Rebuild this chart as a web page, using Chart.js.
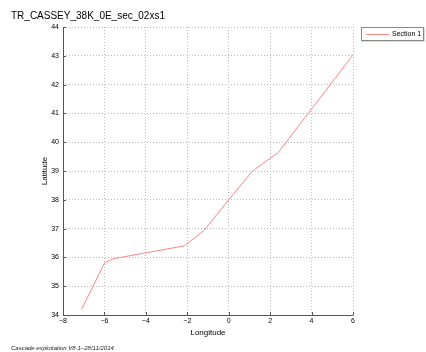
<!DOCTYPE html>
<html><head><meta charset="utf-8">
<script src="https://cdn.jsdelivr.net/npm/chart.js@4/dist/chart.umd.min.js"></script>
<style>html,body{margin:0;padding:0;background:#fff}canvas{display:block}</style>
</head><body>
<canvas id="c" width="426" height="352"></canvas>
<script>
const chartTitle = "TR_CASSEY_38K_0E_sec_02xs1";
const seriesName = "Section 1";
const longitude = [-7.1, -6.0, -5.6, -2.15, -1.2, 0.0, 1.15, 2.4, 6.0];
const latitude  = [34.2, 35.8, 35.95, 36.4, 36.93, 38.0, 39.0, 39.65, 43.03];
const xTicks = [-8, -6, -4, -2, 0, 2, 4, 6];
const yTicks = [34, 35, 36, 37, 38, 39, 40, 41, 42, 43, 44];
const xLabel = "Longitude", yLabel = "Latitude";
const footer = "Cascade exploitation V8.1\u221228/11/2014";

const FONT = "'Liberation Sans', Arial, sans-serif";
const minus = v => String(v).replace('-', '\u2212');

const deco = {
  id: 'deco',
  afterDraw(chart) {
    const ctx = chart.ctx, a = chart.chartArea;
    const xs = chart.scales.x, ys = chart.scales.y;
    ctx.save();
    ctx.setLineDash([]);
    // axis lines
    ctx.strokeStyle = '#555'; ctx.lineWidth = 1;
    ctx.beginPath();
    ctx.moveTo(a.left + 0.5, a.top); ctx.lineTo(a.left + 0.5, a.bottom + 0.5);
    ctx.lineTo(a.right + 0.5, a.bottom + 0.5);
    // inward tick marks
    xTicks.forEach(t => { const p = Math.round(xs.getPixelForValue(t)) + 0.5;
      ctx.moveTo(p, a.bottom); ctx.lineTo(p, a.bottom - 3); });
    yTicks.forEach(t => { const p = Math.round(ys.getPixelForValue(t)) + 0.5;
      ctx.moveTo(a.left, p); ctx.lineTo(a.left + 3, p); });
    ctx.stroke();
    // title
    ctx.fillStyle = '#000';
    ctx.font = "10px " + FONT; ctx.textAlign = 'left'; ctx.textBaseline = 'middle';
    ctx.fillText(chartTitle, 11, 16);
    // axis titles
    ctx.font = "8px " + FONT; ctx.textAlign = 'center';
    ctx.fillText(xLabel, (a.left + a.right) / 2, 333);
    ctx.save(); ctx.translate(45, (a.top + a.bottom) / 2); ctx.rotate(-Math.PI / 2);
    ctx.fillText(yLabel, 0, 0); ctx.restore();
    // footer
    ctx.font = "italic 6px " + FONT; ctx.textAlign = 'left';
    ctx.fillStyle = '#222';
    ctx.fillText(footer, 11, 348);
    // legend
    ctx.fillStyle = '#ddd'; ctx.fillRect(362, 28, 63, 14);
    ctx.fillStyle = '#fff'; ctx.fillRect(361, 27, 63, 14);
    ctx.strokeStyle = '#888'; ctx.strokeRect(361.5, 27.5, 62, 13);
    ctx.strokeStyle = 'rgba(255,120,120,0.9)'; ctx.beginPath();
    ctx.moveTo(366, 34.5); ctx.lineTo(389, 34.5); ctx.stroke();
    ctx.fillStyle = '#000'; ctx.font = "7px " + FONT;
    ctx.fillText(seriesName, 392, 34.5);
    ctx.restore();
  }
};

new Chart(document.getElementById('c'), {
  type: 'scatter',
  data: { datasets: [{
    label: seriesName,
    data: longitude.map((x, i) => ({ x, y: latitude[i] })),
    showLine: true, borderColor: 'rgba(255,120,120,0.9)', borderWidth: 1,
    pointRadius: 0, tension: 0
  }]},
  options: {
    responsive: false, animation: false, devicePixelRatio: 1,
    layout: { padding: { left: 0, right: 73, top: 27, bottom: 0 } },
    plugins: { legend: { display: false }, title: { display: false }, tooltip: { enabled: false } },
    scales: {
      x: {
        type: 'linear', min: -8, max: 6,
        afterFit: s => { s.height = 37; },
        afterBuildTicks: s => { s.ticks = xTicks.map(v => ({ value: v })); },
        ticks: { callback: v => minus(v), font: { family: FONT, size: 7 }, color: '#000', padding: 2, maxRotation: 0 },
        grid: { color: '#bdbdbd', lineWidth: 1, drawTicks: false, tickLength: 0 },
        border: { display: false, dash: [1, 2] }
      },
      y: {
        type: 'linear', min: 34, max: 44,
        afterFit: s => { s.width = 63; },
        afterBuildTicks: s => { s.ticks = yTicks.map(v => ({ value: v })); },
        ticks: { callback: v => minus(v), font: { family: FONT, size: 7 }, color: '#000', padding: 4 },
        grid: { color: '#bdbdbd', lineWidth: 1, drawTicks: false, tickLength: 0 },
        border: { display: false, dash: [1, 2] }
      }
    }
  },
  plugins: [deco]
});
</script>
</body></html>
